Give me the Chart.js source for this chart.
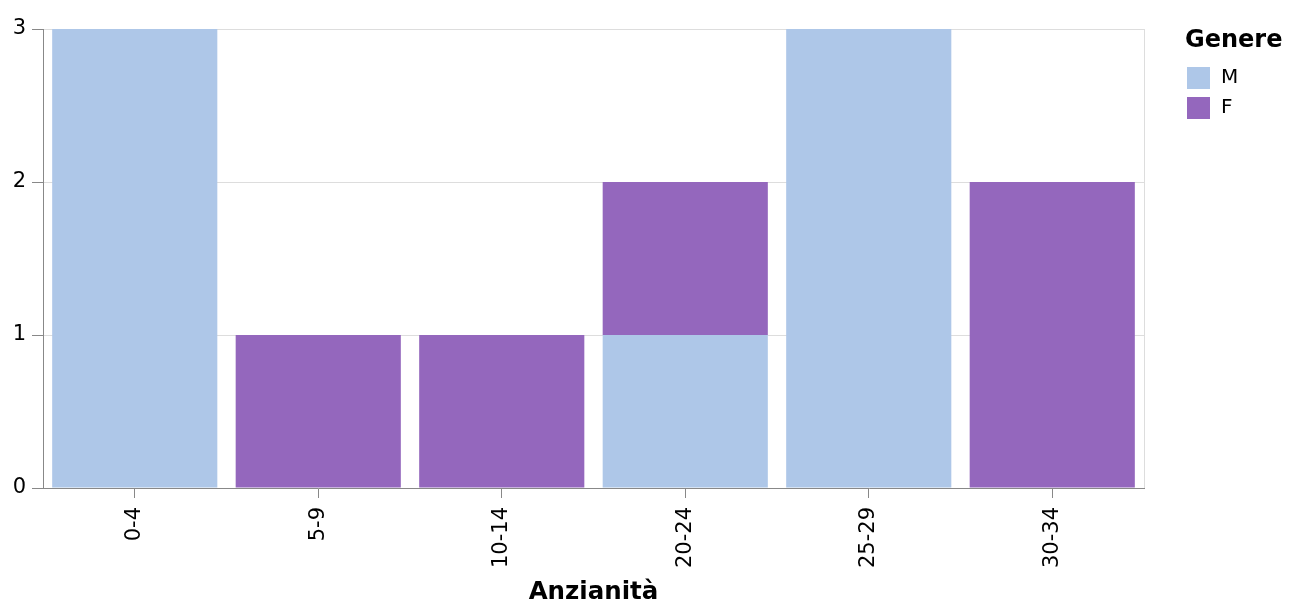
<!DOCTYPE html>
<html>
<head>
<meta charset="utf-8">
<script src="https://cdn.jsdelivr.net/npm/chart.js@4/dist/chart.umd.min.js"></script>
<style>
  html, body { margin: 0; padding: 0; background: #fff; }
  #wrap { width: 1289px; height: 602px; }
</style>
</head>
<body>
<div id="wrap"><canvas id="anzianita"></canvas></div>
<script>
// dati
var categorie = ['0-4', '5-9', '10-14', '20-24', '25-29', '30-34'];
var maschi = [3, 0, 0, 1, 3, 0];
var femmine = [0, 1, 1, 1, 0, 2];
var yTicks = [0, 1, 2, 3];
var generi = ['M', 'F'];
var colori = ['#aec7e8', '#9467bd'];

var fontFam = '"DejaVu Sans", sans-serif';

// bordo della vista + legenda disegnata a mano
var vistaPlugin = {
    id: 'vista',
    beforeDatasetsDraw: function (chart) {
        var a = chart.chartArea, ctx = chart.ctx;
        ctx.save();
        ctx.strokeStyle = '#ddd';
        ctx.lineWidth = 1;
        ctx.beginPath();
        ctx.moveTo(a.right + 0.5, a.top);
        ctx.lineTo(a.right + 0.5, a.bottom);
        ctx.stroke();
        ctx.restore();
    },
    afterDraw: function (chart) {
        var ctx = chart.ctx;
        var x0 = 1185;
        ctx.save();
        ctx.fillStyle = '#000';
        ctx.font = 'bold 24px ' + fontFam;
        ctx.textBaseline = 'middle';
        ctx.fillText('Genere', x0, 41);
        ctx.font = '20px ' + fontFam;
        for (var i = 0; i < generi.length; i++) {
            var y = 78 + i * 30;
            ctx.fillStyle = colori[i];
            ctx.fillRect(x0 + 2, y - 11, 23, 22);
            ctx.fillStyle = '#000';
            ctx.fillText(generi[i], x0 + 36, y);
        }
        ctx.restore();
    }
};

var ctxA = document.getElementById('anzianita').getContext('2d');
var chartA = new Chart(ctxA, {
    type: 'bar',
    data: {
        labels: categorie,
        datasets: [
            { label: 'M', data: maschi, backgroundColor: colori[0] },
            { label: 'F', data: femmine, backgroundColor: colori[1] }
        ]
    },
    options: {
        responsive: true,
        maintainAspectRatio: false,
        animation: false,
        barPercentage: 0.9,
        categoryPercentage: 1.0,
        layout: { padding: { left: 0, top: 29, right: 145, bottom: 0 } },
        plugins: {
            legend: { display: false },
            tooltip: { enabled: false }
        },
        scales: {
            x: {
                stacked: true,
                afterFit: function (s) { s.height = 114; },
                grid: {
                    offset: false,
                    drawOnChartArea: false,
                    tickLength: 10,
                    tickColor: '#888'
                },
                border: { color: '#888' },
                ticks: {
                    color: '#000',
                    font: { family: fontFam, size: 21 },
                    minRotation: 90,
                    maxRotation: 90,
                    padding: 9
                },
                title: {
                    display: true,
                    text: 'Anzianità',
                    color: '#000',
                    font: { family: fontFam, size: 24.5, weight: 'bold', lineHeight: 0.75 },
                    padding: { top: 4, bottom: 0 }
                }
            },
            y: {
                stacked: true,
                min: 0,
                max: 3,
                afterFit: function (s) { s.width = 43; },
                afterBuildTicks: function (s) {
                    s.ticks = yTicks.map(function (v) { return { value: v }; });
                },
                grid: {
                    color: '#ddd',
                    tickLength: 11,
                    tickColor: '#888'
                },
                border: { color: '#888' },
                ticks: {
                    color: '#000',
                    font: { family: fontFam, size: 21 },
                    padding: 6
                }
            }
        }
    },
    plugins: [vistaPlugin]
});
</script>
</body>
</html>
